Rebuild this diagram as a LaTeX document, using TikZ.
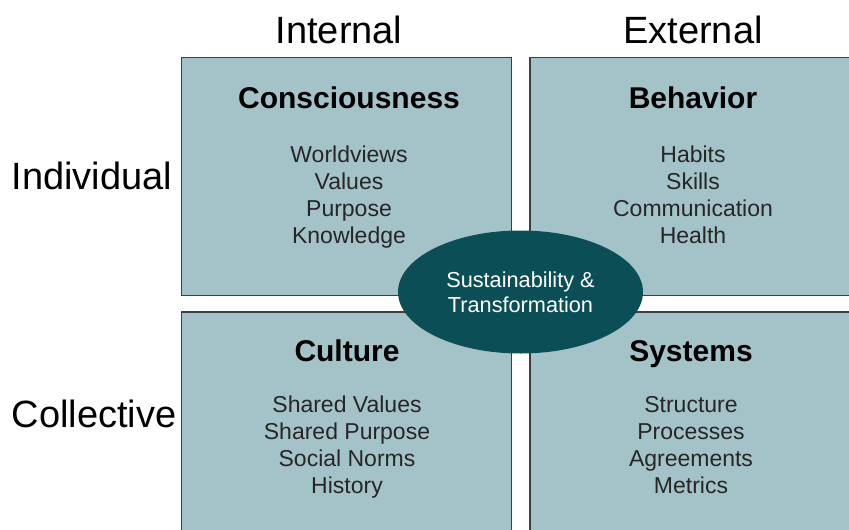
\documentclass[tikz,border=0pt]{standalone}
\usepackage{fontspec}
\setmainfont{Liberation Sans}
\usetikzlibrary{positioning,shapes.geometric}
\definecolor{quadfill}{HTML}{A4C3C8}
\definecolor{quadline}{HTML}{3A3F40}
\definecolor{hubfill}{HTML}{0B4E55}

\begin{document}
\begin{tikzpicture}[x=1pt, y=-1pt,
  quad/.style = {draw=quadline, fill=quadfill, line width=1.2pt, minimum width=330pt, minimum height=238pt, inner sep=0pt},
  axis/.style = {font=\fontsize{38}{44}\selectfont, inner sep=0pt, anchor=base},
  title/.style = {font=\bfseries\fontsize{30}{36}\selectfont, inner sep=0pt, anchor=base},
  items/.style = {font=\fontsize{23}{27}\selectfont, align=center, inner sep=0pt, text=black!85},
  hub/.style = {ellipse, fill=hubfill, text=white, minimum width=245pt, minimum height=123pt, inner sep=0pt, align=center, font=\fontsize{21.7}{25}\selectfont}]
  \useasboundingbox (0,0) rectangle (849,530);
  \clip (0,0) rectangle (849,530);
  % quadrants
  \node[quad] (indint) at (346.5,176.5) {};
  \node[quad] (indext) at (695,176.5) {};
  \node[quad] (colint) at (346.5,431) {};
  \node[quad] (colext) at (695,431) {};
  % axis labels
  \node[axis] (internal) at (339,43) {Internal};
  \node[axis] (external) at (693,43) {External};
  \node[axis] (individual) at (92,189) {Individual};
  \node[axis] (collective) at (94,427) {Collective};
  % quadrant titles
  \node[title] (cons) at (349,108) {Consciousness};
  \node[title] (behav) at (693,108) {Behavior};
  \node[title] (cult) at (347,361) {Culture};
  \node[title] (sys) at (691,361) {Systems};
  % quadrant contents
  \node[items] (conslist) [below=38pt of cons.base] {Worldviews\\Values\\Purpose\\Knowledge};
  \node[items] (behavlist) [below=38pt of behav.base] {Habits\\Skills\\Communication\\Health};
  \node[items] (cultlist) [below=35pt of cult.base] {Shared Values\\Shared Purpose\\Social Norms\\History};
  \node[items] (syslist) [below=35pt of sys.base] {Structure\\Processes\\Agreements\\Metrics};
  % centre
  \node[hub] (hub) at (520.5,292) {Sustainability \&\\Transformation};
\end{tikzpicture}
\end{document}
